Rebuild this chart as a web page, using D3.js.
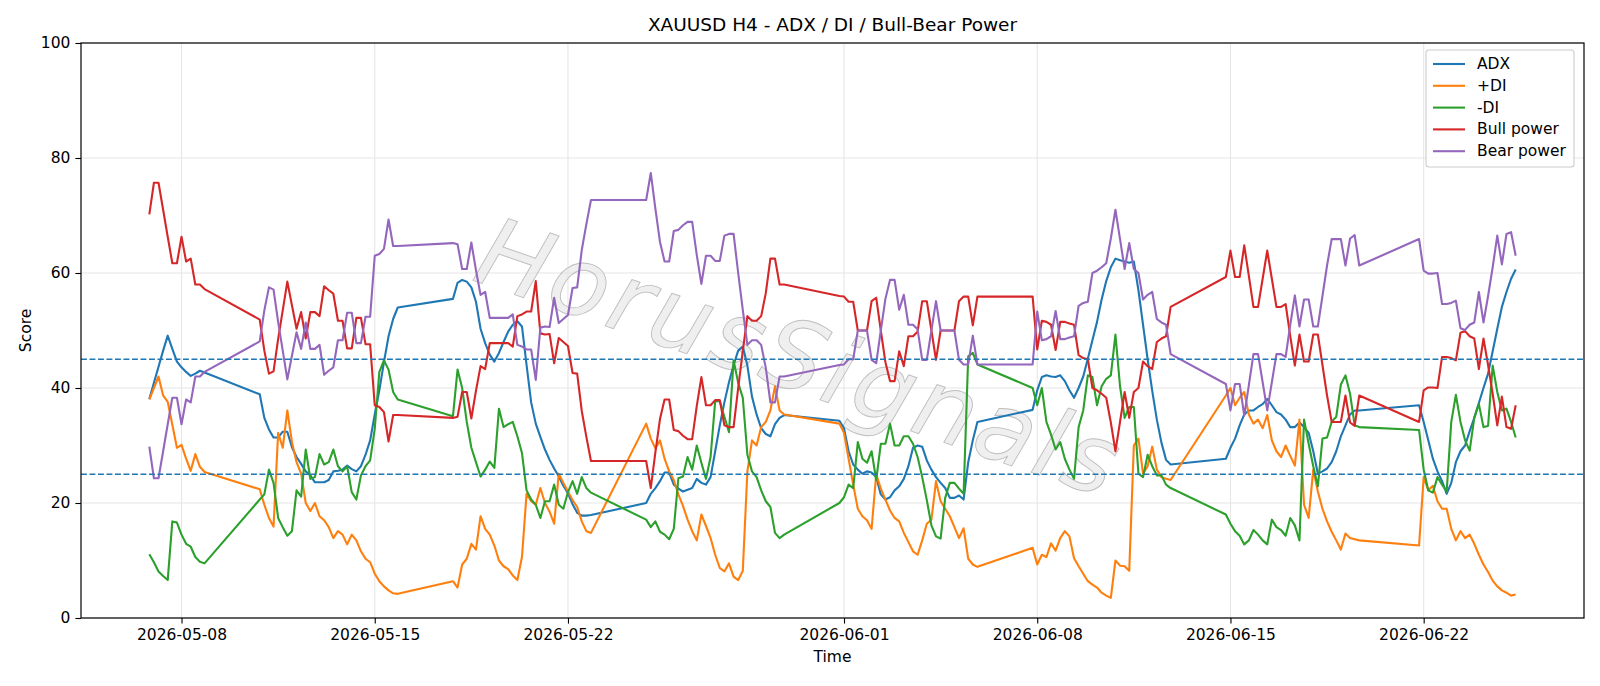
<!DOCTYPE html>
<html lang="en">
<head>
<meta charset="UTF-8">
<title>XAUUSD H4 - ADX / DI / Bull-Bear Power</title>
<script src="https://cdn.jsdelivr.net/npm/d3@7"></script>
<style>
  body { margin: 0; background: #fff; }
  svg { display: block; font-family: "DejaVu Sans", sans-serif; }
</style>
</head>
<body>
<svg id="chart" width="1600" height="686"></svg>
<script>
// first H4 bar of each trading block (UTC), bars every 4 hours
var weekStarts = ["2026-05-06T20:00", "2026-05-10T20:00", "2026-05-17T20:00", "2026-05-24T20:00",
                  "2026-05-31T20:00", "2026-06-07T20:00", "2026-06-14T20:00", "2026-06-21T20:00"];

var adx = [
  [38.1, 40.9, 43.7, 46.5, 49.1, 46.8, 44.6, 43.6, 42.8, 42.1, 42.5, 43.0, 42.7],
  [38.9, 34.8, 32.8, 31.4, 31.4, 32.4, 32.4, 29.7, 28.0, 26.8, 25.5, 24.8, 23.6, 23.6, 23.6, 24.0, 25.5, 25.6, 25.8, 26.5,
   25.9, 25.5, 26.4, 28.4, 30.9, 35.4, 39.6, 44.5, 49.0, 52.0, 54.0],
  [55.5, 58.3, 58.8, 58.5, 57.5, 55.0, 50.3, 47.8, 45.8, 44.6, 46.1, 48.0, 49.8, 51.0, 51.6, 50.7, 44.0, 37.5, 33.8, 31.5,
   29.3, 27.5, 26.0, 24.6, 23.0, 21.7, 19.8, 18.3, 17.8, 17.8, 17.9],
  [20.0, 21.6, 22.6, 23.8, 25.3, 25.3, 23.2, 22.5, 22.0, 22.3, 22.6, 24.2, 23.5, 23.2, 24.5, 29.0, 33.5, 37.5, 41.0, 44.0,
   46.5, 47.2, 43.9, 38.5, 35.4, 33.0, 32.0, 31.6, 33.7, 34.8, 35.3],
  [34.3, 33.0, 29.0, 26.7, 25.8, 25.1, 25.5, 25.3, 24.5, 21.5, 20.6, 21.0, 22.2, 22.9, 24.2, 26.4, 29.6, 30.0, 29.8, 27.4,
   25.8, 24.5, 23.5, 22.6, 20.9, 20.9, 21.3, 20.6, 27.1, 30.9, 34.1],
  [36.2, 39.6, 41.9, 42.2, 42.0, 41.9, 42.2, 41.2, 39.6, 38.3, 40.0, 42.0, 45.1, 48.3, 51.5, 55.4, 58.6, 61.0, 62.5, 62.2,
   62.0, 61.8, 62.0, 57.0, 51.0, 45.0, 39.5, 34.5, 30.5, 27.5, 26.7],
  [27.7, 29.6, 31.2, 33.5, 35.4, 36.1, 36.1, 36.7, 37.2, 38.1, 37.0, 35.8, 35.4, 34.5, 33.2, 33.2, 34.0, 33.2, 32.2, 29.0,
   25.1, 25.5, 26.0, 27.1, 29.0, 31.6, 33.5, 35.4, 36.1, 36.1],
  [37.0, 34.1, 30.9, 27.7, 25.5, 23.8, 21.6, 23.5, 27.1, 29.0, 30.0, 32.5, 34.8, 37.4, 40.0, 42.5, 46.4, 50.3, 54.1, 56.7,
   59.0, 60.6]
];

var plusDI = [
  [38.0, 40.0, 42.0, 38.7, 37.6, 33.6, 29.6, 30.1, 27.7, 25.6, 28.5, 26.3, 25.4],
  [22.4, 19.7, 17.4, 15.9, 32.2, 29.6, 36.1, 30.6, 27.1, 25.1, 20.0, 18.6, 20.0, 17.7, 17.0, 15.8, 13.9, 15.1, 14.5, 12.8,
   14.5, 13.5, 11.6, 10.3, 9.7, 7.7, 6.4, 5.5, 4.8, 4.3, 4.2],
  [6.4, 5.3, 9.3, 10.3, 12.9, 11.9, 17.7, 15.5, 14.5, 12.6, 10.0, 9.0, 8.5, 7.4, 6.6, 10.6, 21.6, 20.3, 19.7, 22.6,
   20.0, 18.5, 16.4, 25.1, 23.5, 22.0, 20.5, 19.3, 16.8, 15.1, 14.8],
  [33.8, 31.2, 29.5, 30.9, 27.7, 25.5, 24.0, 21.5, 19.5, 17.1, 15.1, 13.5, 18.0, 16.0, 13.9, 11.0, 8.7, 8.1, 9.5, 7.2,
   6.6, 8.2, 25.5, 30.9, 30.0, 33.2, 34.1, 36.1, 40.3, 36.1, 35.4],
  [33.8, 32.2, 27.7, 23.2, 19.0, 17.7, 17.0, 15.5, 25.0, 22.5, 20.6, 18.7, 17.4, 16.8, 14.8, 13.2, 11.6, 11.0, 13.5, 16.4,
   17.1, 23.8, 20.3, 19.0, 17.7, 15.8, 13.9, 15.6, 10.3, 9.3, 8.9],
  [12.2, 9.3, 11.0, 10.6, 13.0, 11.7, 13.9, 15.1, 14.2, 10.4, 9.0, 7.7, 6.4, 5.8, 5.3, 4.4, 3.9, 3.5, 10.0, 9.1,
   9.0, 8.2, 30.0, 31.2, 25.1, 26.4, 29.8, 25.8, 24.5, 24.2, 24.0],
  [38.7, 40.0, 37.0, 38.3, 39.3, 35.4, 33.8, 34.5, 33.0, 35.3, 30.9, 29.0, 28.0, 30.0, 28.2, 26.5, 34.5, 19.7, 17.4, 25.8,
   22.0, 19.0, 16.8, 15.0, 13.5, 11.9, 14.7, 13.9, 13.7, 13.5],
  [12.6, 24.5, 22.2, 23.0, 20.3, 19.0, 19.0, 15.5, 13.5, 15.1, 13.9, 14.5, 12.9, 11.0, 9.3, 8.0, 6.5, 5.5, 4.8, 4.4,
   3.9, 4.1]
];

var minusDI = [
  [11.1, 9.7, 8.1, 7.3, 6.6, 16.8, 16.6, 14.5, 12.9, 12.4, 10.6, 9.8, 9.5],
  [20.6, 21.5, 25.8, 23.5, 17.4, 15.8, 14.3, 15.1, 22.2, 21.1, 29.3, 24.2, 24.5, 28.5, 26.7, 27.1, 29.3, 26.4, 25.5, 26.4,
   21.9, 20.6, 24.8, 26.4, 27.4, 32.9, 42.8, 44.8, 43.2, 39.3, 38.0],
  [35.1, 43.2, 40.0, 34.1, 29.6, 27.1, 24.6, 25.8, 27.2, 26.1, 36.4, 33.2, 33.7, 34.1, 31.6, 28.7, 22.2, 20.6, 19.7, 17.4,
   20.3, 20.3, 23.2, 19.7, 19.0, 21.9, 23.8, 21.6, 24.5, 22.6, 21.8],
  [17.1, 15.8, 16.8, 15.0, 14.5, 13.7, 15.5, 24.3, 24.6, 28.0, 25.8, 30.0, 27.0, 24.2, 28.0, 37.7, 37.7, 35.0, 32.3, 44.8,
   40.9, 38.3, 28.4, 25.5, 24.5, 22.2, 20.3, 19.3, 14.8, 13.9, 14.5],
  [20.0, 21.0, 23.2, 22.6, 30.6, 27.7, 27.0, 29.0, 24.0, 30.3, 30.3, 33.8, 30.0, 30.0, 31.6, 31.6, 30.3, 28.0, 24.5, 20.5,
   16.1, 14.2, 13.8, 20.9, 23.5, 23.5, 22.5, 21.6, 45.5, 46.1, 44.1],
  [40.0, 37.0, 40.0, 34.1, 31.9, 29.3, 30.6, 27.7, 25.8, 24.2, 33.2, 36.1, 42.2, 41.9, 37.0, 40.3, 41.6, 42.2, 49.3, 40.3,
   34.8, 36.7, 36.7, 25.1, 24.5, 28.4, 26.4, 24.8, 24.8, 23.2, 22.6],
  [18.0, 16.4, 15.1, 14.3, 12.8, 13.5, 15.3, 14.5, 13.5, 12.8, 17.1, 15.8, 15.3, 14.3, 17.4, 16.1, 13.5, 34.5, 30.3, 26.4,
   22.9, 31.2, 31.4, 34.1, 35.0, 40.6, 42.2, 39.0, 33.5, 33.2],
  [32.7, 25.8, 22.2, 21.8, 24.5, 23.2, 22.0, 34.1, 38.8, 34.1, 30.9, 29.1, 34.8, 37.2, 33.2, 33.4, 43.9, 39.3, 36.1, 36.4,
   34.1, 31.4]
];

var bullPower = [
  [70.2, 75.7, 75.7, 71.0, 66.3, 61.7, 61.7, 66.3, 62.0, 62.5, 58.0, 58.0, 57.2],
  [51.9, 46.5, 42.5, 42.9, 48.5, 53.5, 58.5, 54.4, 50.3, 53.2, 48.6, 53.2, 53.2, 52.5, 57.7, 57.0, 56.4, 51.7, 51.7, 46.9,
   46.9, 52.2, 52.2, 47.6, 47.6, 37.0, 36.7, 35.8, 30.7, 35.3, 35.3],
  [34.8, 35.0, 39.3, 39.3, 34.7, 39.5, 43.8, 43.3, 47.8, 47.8, 47.8, 47.8, 47.8, 47.2, 52.5, 52.8, 53.3, 53.3, 58.6, 49.5,
   49.3, 49.4, 44.3, 48.7, 48.0, 47.3, 42.6, 42.5, 36.0, 31.5, 27.3],
  [27.3, 22.6, 28.8, 34.6, 38.0, 38.0, 32.7, 32.5, 31.7, 31.1, 31.1, 36.9, 41.9, 37.0, 37.0, 37.9, 37.9, 33.5, 33.2, 33.2,
   40.0, 46.4, 52.5, 51.7, 51.7, 52.5, 56.5, 62.5, 62.5, 58.0, 58.0],
  [56.0, 55.9, 55.0, 55.0, 50.0, 50.0, 50.0, 55.1, 55.7, 50.0, 44.5, 41.2, 41.2, 46.4, 43.8, 49.0, 49.0, 49.8, 55.1, 55.1,
   50.0, 44.9, 50.0, 50.0, 50.0, 50.0, 55.1, 55.9, 55.9, 50.9, 55.9],
  [55.9, 46.7, 51.7, 51.5, 51.0, 46.6, 51.5, 51.5, 51.2, 51.0, 45.7, 45.2, 45.0, 40.0, 39.6, 39.0, 38.3, 34.0, 29.0, 34.1,
   39.3, 34.8, 39.3, 40.0, 44.6, 43.8, 43.3, 48.0, 48.6, 49.0, 54.1],
  [59.3, 63.9, 59.3, 59.3, 64.8, 59.5, 54.1, 54.1, 59.0, 63.9, 59.0, 54.1, 54.1, 54.6, 49.0, 43.9, 49.3, 44.6, 44.6, 49.3,
   49.3, 44.0, 38.7, 34.1, 34.1, 34.1, 38.7, 34.0, 33.4, 38.7],
  [34.1, 39.6, 40.1, 40.1, 40.0, 45.4, 45.4, 45.2, 44.8, 49.6, 49.9, 49.0, 48.6, 43.3, 48.6, 44.0, 39.0, 33.5, 38.5, 33.2,
   32.9, 37.0]
];

var bearPower = [
  [29.8, 24.3, 24.3, 29.0, 33.7, 38.3, 38.3, 33.7, 38.0, 37.5, 42.0, 42.0, 42.8],
  [48.1, 53.5, 57.5, 57.1, 51.5, 46.5, 41.5, 45.6, 49.7, 46.8, 51.4, 46.8, 46.8, 47.5, 42.3, 43.0, 43.6, 48.3, 48.3, 53.1,
   53.1, 47.8, 47.8, 52.4, 52.4, 63.0, 63.3, 64.2, 69.3, 64.7, 64.7],
  [65.2, 65.0, 60.7, 60.7, 65.3, 60.5, 56.2, 56.7, 52.2, 52.2, 52.2, 52.2, 52.2, 52.8, 47.5, 47.2, 46.7, 46.7, 41.4, 50.5,
   50.7, 50.6, 55.7, 51.3, 52.0, 52.7, 57.4, 57.5, 64.0, 68.5, 72.7],
  [72.7, 77.4, 71.2, 65.4, 62.0, 62.0, 67.3, 67.5, 68.3, 68.9, 68.9, 63.1, 58.1, 63.0, 63.0, 62.1, 62.1, 66.5, 66.8, 66.8,
   60.0, 53.6, 47.5, 48.3, 48.3, 47.5, 43.5, 37.5, 37.5, 42.0, 42.0],
  [44.0, 44.1, 45.0, 45.0, 50.0, 50.0, 50.0, 44.9, 44.3, 50.0, 55.5, 58.8, 58.8, 53.6, 56.2, 51.0, 51.0, 50.2, 44.9, 44.9,
   50.0, 55.1, 50.0, 50.0, 50.0, 50.0, 44.9, 44.1, 44.1, 49.1, 44.1],
  [44.1, 53.3, 48.3, 48.5, 49.0, 53.4, 48.5, 48.5, 48.8, 49.0, 54.3, 54.8, 55.0, 60.0, 60.4, 61.0, 61.7, 66.0, 71.0, 65.9,
   60.7, 65.2, 60.7, 60.0, 55.4, 56.2, 56.7, 52.0, 51.4, 51.0, 45.9],
  [40.7, 36.1, 40.7, 40.7, 35.2, 40.5, 45.9, 45.9, 41.0, 36.1, 41.0, 45.9, 45.9, 45.4, 51.0, 56.1, 50.7, 55.4, 55.4, 50.7,
   50.7, 56.0, 61.3, 65.9, 65.9, 65.9, 61.3, 66.0, 66.6, 61.3],
  [65.9, 60.4, 59.9, 59.9, 60.0, 54.6, 54.6, 54.8, 55.2, 50.4, 50.1, 51.0, 51.4, 56.7, 51.4, 56.0, 61.0, 66.5, 61.5, 66.8,
   67.1, 63.0]
];

var xTickLabels = ["2026-05-08", "2026-05-15", "2026-05-22", "2026-06-01", "2026-06-08", "2026-06-15", "2026-06-22"];
var yTicks = [0, 20, 40, 60, 80, 100];
var refLevels = [45, 25];

var seriesNames = ["ADX", "+DI", "-DI", "Bull power", "Bear power"];
var seriesColors = ["#1f77b4", "#ff7f0e", "#2ca02c", "#d62728", "#9467bd"];
var seriesData = [adx, plusDI, minusDI, bullPower, bearPower];

// ---- layout
var m = { left: 81, right: 1584, top: 43, bottom: 618 };
var BAR = 4 * 3600 * 1000;

function toPoints(weeks) {
  var pts = [];
  weeks.forEach(function (vals, w) {
    var t0 = Date.parse(weekStarts[w] + ":00Z");
    vals.forEach(function (v, i) { pts.push({ t: new Date(t0 + i * BAR), v: v }); });
  });
  return pts;
}
var lines = seriesData.map(toPoints);

var ext = d3.extent(lines[0], function (d) { return d.t; });
var span = ext[1] - ext[0];
var x = d3.scaleUtc()
  .domain([new Date(+ext[0] - 0.05 * span), new Date(+ext[1] + 0.05 * span)])
  .range([m.left, m.right]);
var y = d3.scaleLinear().domain([0, 100]).range([m.bottom, m.top]);

var svg = d3.select("#chart");
var xTicks = xTickLabels.map(d3.utcParse("%Y-%m-%d"));

// grid
var grid = svg.append("g").attr("stroke", "#e6e6e6").attr("stroke-width", 1.1);
grid.selectAll(".gx").data(xTicks).enter().append("line")
  .attr("x1", function (d) { return x(d); }).attr("x2", function (d) { return x(d); })
  .attr("y1", m.top).attr("y2", m.bottom);
grid.selectAll(".gy").data(yTicks).enter().append("line")
  .attr("x1", m.left).attr("x2", m.right)
  .attr("y1", function (d) { return y(d); }).attr("y2", function (d) { return y(d); });

// watermark
svg.append("text")
  .attr("transform", "translate(800,358) rotate(19)")
  .attr("text-anchor", "middle")
  .attr("dominant-baseline", "central")
  .attr("font-size", 96)
  .attr("font-style", "italic")
  .attr("font-weight", 200)
  .attr("letter-spacing", 4)
  .attr("fill", "#e4e4e4")
  .attr("fill-opacity", 0.6)
  .attr("stroke", "#b4b4b4")
  .attr("stroke-width", 0.9)
  .attr("stroke-opacity", 0.85)
  .text("HorusSignals");

// series
var lineGen = d3.line().x(function (d) { return x(d.t); }).y(function (d) { return y(d.v); });
lines.forEach(function (pts, i) {
  svg.append("path").datum(pts)
    .attr("d", lineGen)
    .attr("fill", "none")
    .attr("stroke", seriesColors[i])
    .attr("stroke-width", 2.1)
    .attr("stroke-linejoin", "round");
});

// reference levels
svg.selectAll(".ref").data(refLevels).enter().append("line")
  .attr("x1", m.left).attr("x2", m.right)
  .attr("y1", function (d) { return y(d); }).attr("y2", function (d) { return y(d); })
  .attr("stroke", "#1f77b4").attr("stroke-width", 1.5)
  .attr("stroke-dasharray", "5.9,2.6");

// axes
var xAxis = d3.axisBottom(x).tickValues(xTicks).tickFormat(d3.utcFormat("%Y-%m-%d")).tickSize(5.6).tickPadding(5);
var yAxis = d3.axisLeft(y).tickValues(yTicks).tickSize(5.6).tickPadding(5);
var gx = svg.append("g").attr("transform", "translate(0," + m.bottom + ")").call(xAxis);
var gy = svg.append("g").attr("transform", "translate(" + m.left + ",0)").call(yAxis);
[gx, gy].forEach(function (g) {
  g.select(".domain").remove();
  g.selectAll(".tick line").attr("stroke", "#000").attr("stroke-width", 1.1);
  g.selectAll(".tick text").attr("fill", "#000").attr("font-size", 15.5)
    .attr("font-family", "DejaVu Sans, sans-serif");
});

// frame
svg.append("rect").attr("x", m.left).attr("y", m.top)
  .attr("width", m.right - m.left).attr("height", m.bottom - m.top)
  .attr("fill", "none").attr("stroke", "#000").attr("stroke-width", 1.2);

// labels
svg.append("text").attr("x", (m.left + m.right) / 2).attr("y", 31)
  .attr("text-anchor", "middle").attr("font-size", 18.5)
  .text("XAUUSD H4 - ADX / DI / Bull-Bear Power");
svg.append("text").attr("x", (m.left + m.right) / 2).attr("y", 662)
  .attr("text-anchor", "middle").attr("font-size", 15.5).text("Time");
svg.append("text").attr("transform", "translate(31," + ((m.top + m.bottom) / 2) + ") rotate(-90)")
  .attr("text-anchor", "middle").attr("font-size", 15.5).text("Score");

// legend
var lg = svg.append("g").attr("transform", "translate(1426,50)");
lg.append("rect").attr("width", 148).attr("height", 117).attr("rx", 3)
  .attr("fill", "#fff").attr("fill-opacity", 0.8)
  .attr("stroke", "#cccccc").attr("stroke-width", 1.1);
seriesNames.forEach(function (name, i) {
  var yy = 14 + i * 21.8;
  lg.append("line").attr("x1", 7).attr("x2", 39).attr("y1", yy).attr("y2", yy)
    .attr("stroke", seriesColors[i]).attr("stroke-width", 2.1);
  lg.append("text").attr("x", 51).attr("y", yy).attr("dominant-baseline", "central")
    .attr("font-size", 15.5).text(name);
});
</script>
</body>
</html>
